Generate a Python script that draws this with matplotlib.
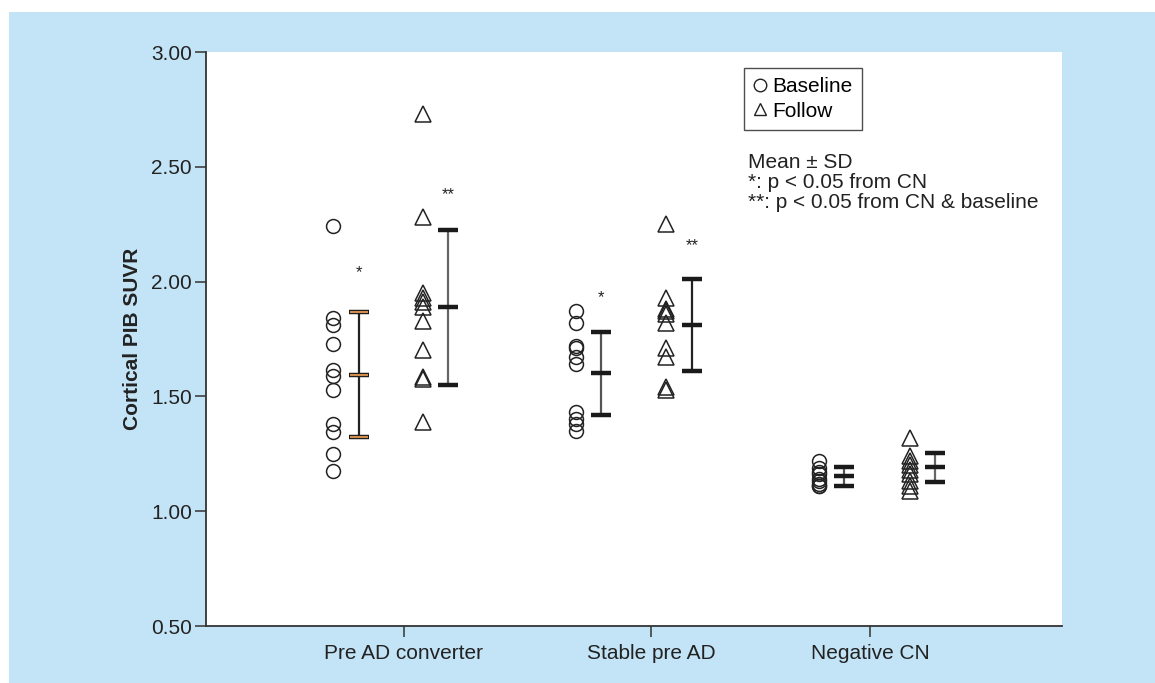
import matplotlib
matplotlib.use("Agg")
import matplotlib.pyplot as plt
from matplotlib.lines import Line2D
from matplotlib.patches import Rectangle
from matplotlib.ticker import FormatStrFormatter

plt.rcParams["font.family"] = ["Liberation Sans", "DejaVu Sans"]

# --- data ---
groups = ["Pre AD converter", "Stable pre AD", "Negative CN"]

pre_base = [2.24, 1.84, 1.81, 1.73, 1.615, 1.59, 1.53, 1.38, 1.345, 1.25, 1.175]
pre_follow = [2.73, 2.28, 1.95, 1.93, 1.91, 1.89, 1.83, 1.70, 1.585, 1.575, 1.39]
stable_base = [1.87, 1.82, 1.72, 1.71, 1.67, 1.64, 1.43, 1.40, 1.38, 1.35]
stable_follow = [2.25, 1.93, 1.88, 1.87, 1.86, 1.82, 1.71, 1.67, 1.54, 1.53]
cn_base = [1.22, 1.19, 1.17, 1.16, 1.14, 1.13, 1.12, 1.11, 1.11]
cn_follow = [1.32, 1.24, 1.22, 1.20, 1.18, 1.16, 1.13, 1.11, 1.09]

# mean and SD as drawn on the error bars
base_mean = [1.595, 1.60, 1.152]
base_sd = [0.273, 0.18, 0.041]
follow_mean = [1.888, 1.81, 1.191]
follow_sd = [0.337, 0.20, 0.062]

base_stars = ["*", "*", ""]
follow_stars = ["**", "**", ""]
base_star_y = [2.04, 1.93, None]
follow_star_y = [2.38, 2.155, None]

# --- layout (pixel offsets from the axes' left edge) ---
tick_x = [198, 445, 664]
base_x = [127, 370, 613]
base_bar_x = [153, 395, 638]
follow_x = [217, 460, 704]
follow_bar_x = [242, 486, 729]
bar_line_col = ["#222222", "#555555", "#555555"]
follow_line_col = ["#666666", "#222222", "#666666"]

BG_BLUE = "#C3E4F6"
INK = "#222222"
FS = 15

fig = plt.figure(figsize=(11.55, 6.83), dpi=100)
fig.patch.set_facecolor("white")
bg = Rectangle((9 / 1155, 0), 1, (683 - 12) / 683, transform=fig.transFigure,
               facecolor=BG_BLUE, edgecolor="none")
bg.set_zorder(-10)
fig.add_artist(bg)

ax = fig.add_axes([206 / 1155, 57 / 683, 856 / 1155, 574 / 683])
ax.set_zorder(1)
ax.set_facecolor("white")
ax.set_xlim(0, 856)
ax.set_ylim(0.5, 3.0)

base_sets = [pre_base, stable_base, cn_base]
follow_sets = [pre_follow, stable_follow, cn_follow]


def _errbar(x, mean, sd, line_col, cap_col=None):
    ax.plot([x, x], [mean - sd, mean + sd], color=line_col, lw=1.6, zorder=3)
    ys = [mean - sd, mean, mean + sd]
    ax.plot([x] * 3, ys, ls="none", marker="_", ms=15, mew=3.2,
            color="#1a1a1a", zorder=4)
    if cap_col:
        ax.plot([x] * 3, ys, ls="none", marker="_", ms=13, mew=1.5,
                color=cap_col, zorder=5)


for i in range(3):
    ax.plot([base_x[i]] * len(base_sets[i]), base_sets[i], ls="none",
            marker="o", ms=10, mfc="none", mec=INK, mew=1.1, zorder=2)
    ax.plot([follow_x[i]] * len(follow_sets[i]), follow_sets[i], ls="none",
            marker="^", ms=11, mfc="none", mec=INK, mew=1.1, zorder=2)
    _errbar(base_bar_x[i], base_mean[i], base_sd[i], bar_line_col[i],
            cap_col="#D08C4C" if i == 0 else None)
    _errbar(follow_bar_x[i], follow_mean[i], follow_sd[i], follow_line_col[i])
    if base_stars[i]:
        ax.text(base_bar_x[i], base_star_y[i], base_stars[i], ha="center",
                va="center", fontsize=12, color=INK)
    if follow_stars[i]:
        ax.text(follow_bar_x[i], follow_star_y[i], follow_stars[i], ha="center",
                va="center", fontsize=12, color=INK)

# axes styling
for s in ("top", "right"):
    ax.spines[s].set_visible(False)
for s in ("left", "bottom"):
    ax.spines[s].set_color("#333333")
    ax.spines[s].set_linewidth(1.3)

ax.set_yticks([0.5, 1.0, 1.5, 2.0, 2.5, 3.0])
ax.yaxis.set_major_formatter(FormatStrFormatter("%.2f"))
ax.set_xticks(tick_x)
ax.set_xticklabels(groups)
ax.tick_params(axis="y", direction="out", length=8, width=1.1,
               color="#333333", labelsize=FS, labelcolor=INK, pad=2)
ax.tick_params(axis="x", direction="out", length=8, width=1.1,
               color="#333333", labelsize=FS, labelcolor=INK, pad=5)
ax.set_ylabel("Cortical PIB SUVR", fontsize=FS, fontweight="bold",
              color=INK, labelpad=7)

# legend box
handles = [
    Line2D([], [], ls="none", marker="o", ms=9, mfc="none", mec=INK, mew=1.0),
    Line2D([], [], ls="none", marker="^", ms=9, mfc="none", mec=INK, mew=1.0),
]
leg = ax.legend(handles, ["Baseline", "Follow"], loc="upper left",
                bbox_to_anchor=(538 / 856, 1 - 16 / 574), fontsize=FS,
                frameon=True, fancybox=False, handlelength=0.6,
                handletextpad=0.3, borderpad=0.45, labelspacing=0.25,
                borderaxespad=0)
leg.get_frame().set_edgecolor("#222222")
leg.get_frame().set_linewidth(1.0)

note = "Mean \u00b1 SD\n*: p < 0.05 from CN\n**: p < 0.05 from CN & baseline"
ax.text(542 / 856, 1 - 101 / 574, note, transform=ax.transAxes, ha="left",
        va="top", fontsize=FS, color=INK, linespacing=1.07)

fig.savefig("out.png", dpi=100, facecolor=fig.get_facecolor())
